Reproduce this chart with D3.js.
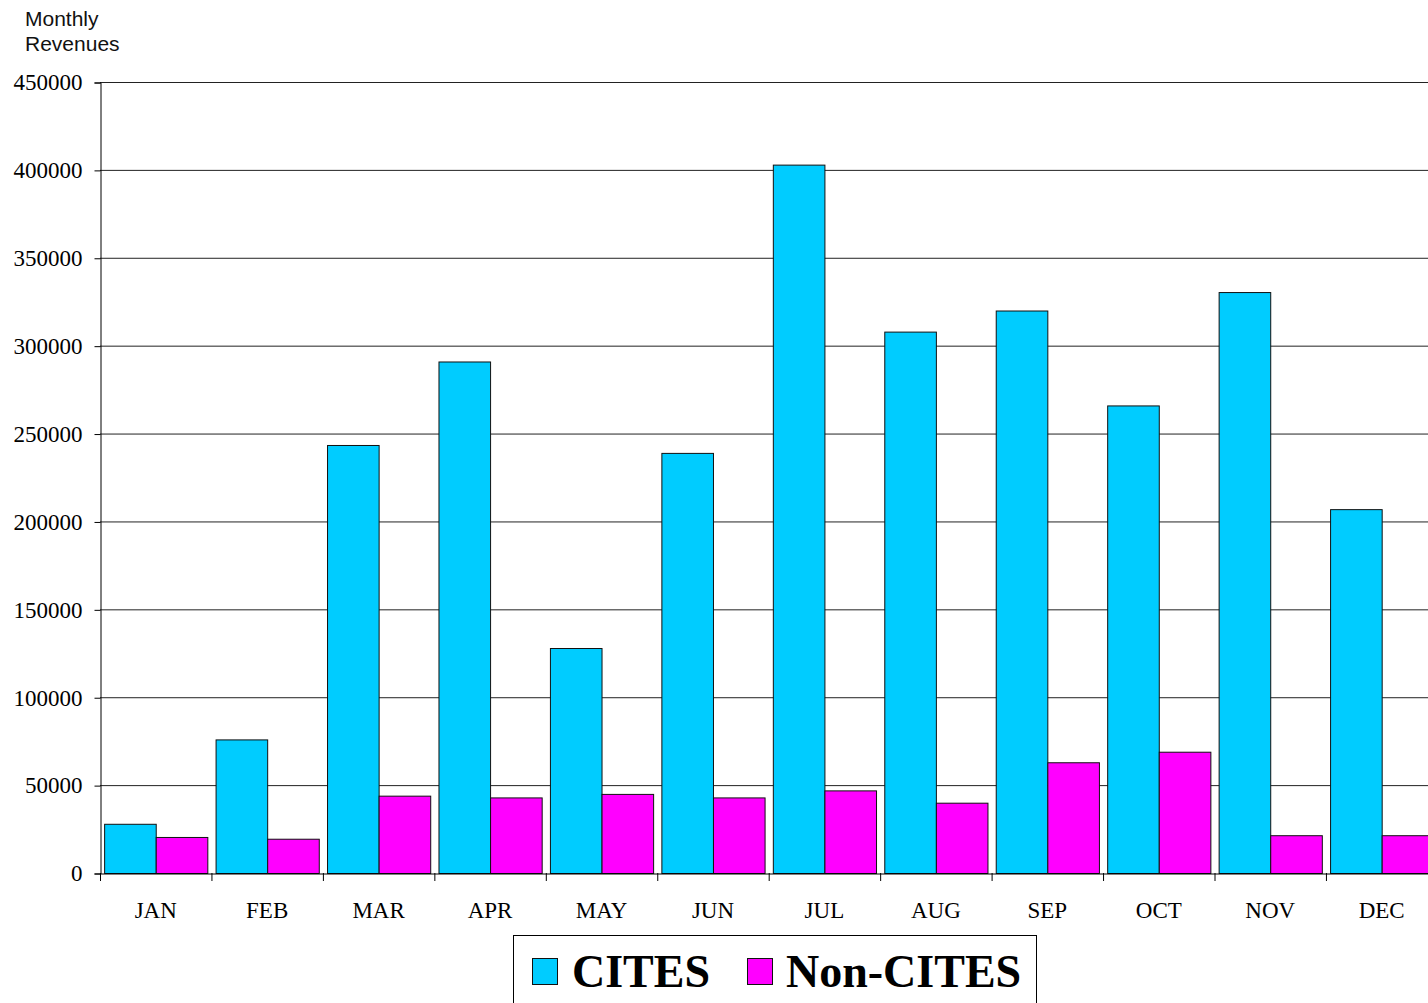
<!DOCTYPE html>
<html>
<head>
<meta charset="utf-8">
<script src="https://cdn.jsdelivr.net/npm/d3@7/dist/d3.min.js"></script>
<style>
  html, body { margin: 0; padding: 0; background: #fff; overflow: hidden; }
  svg { display: block; }
</style>
</head>
<body>
<svg id="chart" width="1428" height="1003"></svg>
<script>
const months = ["JAN","FEB","MAR","APR","MAY","JUN","JUL","AUG","SEP","OCT","NOV","DEC"];
const seriesNames = ["CITES", "Non-CITES"];
const citesValues = [28000, 76000, 243500, 291000, 128000, 239000, 403000, 308000, 320000, 266000, 330500, 207000];
const nonCitesValues = [20500, 19500, 44000, 43000, 45000, 43000, 47000, 40000, 63000, 69000, 21500, 21500];
const yTicks = [0, 50000, 100000, 150000, 200000, 250000, 300000, 350000, 400000, 450000];
const colors = ["#00CCFF", "#FF00FF"];

(function () {
const svg = d3.select("#chart");
const pLeft = 100, pTop = 82, pBottom = 873, pRight = 100 + 12 * 111.45;

const x0 = d3.scaleBand().domain(months).range([pLeft, pRight]).paddingInner(0).paddingOuter(0);
const x1 = d3.scaleBand().domain(seriesNames).range([0, x0.bandwidth()]).paddingInner(0).paddingOuter(0.08);
const y = d3.scaleLinear().domain([0, 450000]).range([pBottom, pTop]);

// gridlines
svg.append("g")
  .selectAll("line")
  .data(yTicks.filter(d => d > 0))
  .join("line")
  .attr("x1", pLeft).attr("x2", pRight)
  .attr("y1", d => y(d) + 0.5).attr("y2", d => y(d) + 0.5)
  .attr("stroke", "#222").attr("stroke-width", 1);

// bars
const data = months.map((m, i) => ({ month: m, values: [citesValues[i], nonCitesValues[i]] }));
const groups = svg.append("g").selectAll("g")
  .data(data).join("g")
  .attr("transform", d => `translate(${x0(d.month)},0)`);
groups.selectAll("rect")
  .data(d => d.values.map((v, j) => ({ key: seriesNames[j], value: v, j })))
  .join("rect")
  .attr("x", d => x1(d.key) + 0.5)
  .attr("y", d => y(d.value) + 0.5)
  .attr("width", x1.bandwidth())
  .attr("height", d => pBottom - y(d.value))
  .attr("fill", d => colors[d.j])
  .attr("stroke", "#111")
  .attr("stroke-width", 1);

// y axis
const yAxis = d3.axisLeft(y).tickValues(yTicks).tickSize(6).tickPadding(12).tickFormat(d3.format("d"));
const gy = svg.append("g").attr("transform", `translate(${pLeft + 0.5},0.5)`).call(yAxis);
gy.select(".domain").attr("stroke", "#000");
gy.selectAll(".tick line").attr("stroke", "#000");
gy.selectAll(".tick text")
  .attr("font-family", "'Liberation Serif', 'Times New Roman', serif")
  .attr("font-size", "23px")
  .attr("fill", "#000");

// x axis
const xAxis = d3.axisBottom(x0).tickSize(0).tickPadding(28);
const gx = svg.append("g").attr("transform", `translate(0,${pBottom + 0.5})`).call(xAxis);
gx.select(".domain").attr("stroke", "#000");
gx.selectAll(".tick text")
  .attr("font-family", "'Liberation Serif', 'Times New Roman', serif")
  .attr("font-size", "23px")
  .attr("fill", "#000");
// x boundary ticks
svg.append("g").selectAll("line")
  .data(months)
  .join("line")
  .attr("x1", d => x0(d) + 0.5).attr("x2", d => x0(d) + 0.5)
  .attr("y1", pBottom).attr("y2", pBottom + 8)
  .attr("stroke", "#000");

// y title
const title = svg.append("text")
  .attr("font-family", "'Liberation Sans', Arial, sans-serif")
  .attr("font-size", "21px")
  .attr("fill", "#111");
title.append("tspan").attr("x", 25).attr("y", 26).text("Monthly");
title.append("tspan").attr("x", 25).attr("y", 51).text("Revenues");

// legend
const lg = svg.append("g");
lg.append("rect").attr("x", 513.5).attr("y", 935.5).attr("width", 523).attr("height", 90)
  .attr("fill", "#fff").attr("stroke", "#000");
const legendItems = [
  { name: seriesNames[0], sx: 532, tx: 572 },
  { name: seriesNames[1], sx: 747, tx: 786 }
];
legendItems.forEach((it, i) => {
  lg.append("rect").attr("x", it.sx + 0.5).attr("y", 958.5).attr("width", 25).attr("height", 26)
    .attr("fill", colors[i]).attr("stroke", "#111");
  lg.append("text").attr("x", it.tx).attr("y", 987)
    .attr("font-family", "'Liberation Serif', 'Times New Roman', serif")
    .attr("font-weight", "bold").attr("font-size", "46px").attr("fill", "#000")
    .text(it.name);
});
})();
</script>
</body>
</html>
